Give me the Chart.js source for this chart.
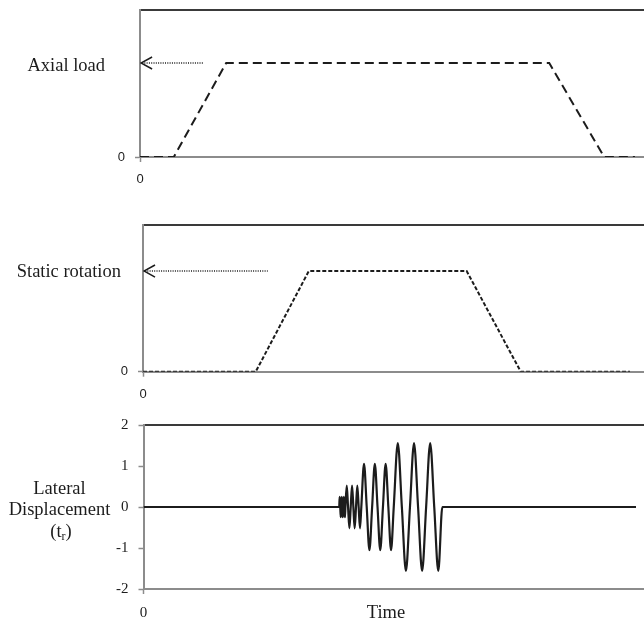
<!DOCTYPE html>
<html><head><meta charset="utf-8">
<script src="https://cdn.jsdelivr.net/npm/chart.js@4.4.1/dist/chart.umd.min.js"></script>
<style>
html,body{margin:0;padding:0;background:#fff;overflow:hidden}
#wrap{position:relative;width:644px;height:619px}
canvas{position:absolute;left:0}
</style></head><body>
<div id="wrap">
<canvas id="c1" width="644" height="200" style="top:0"></canvas>
<canvas id="c2" width="644" height="200" style="top:200px"></canvas>
<canvas id="c3" width="644" height="219" style="top:400px"></canvas>
</div>
<script>
// ---------- data ----------
const axialTime = [0, 6.7, 17.1, 81.2, 92.1, 98.2];
const axialLoad = [0, 0, 1, 1, 0, 0];
const axialArrowTime = [0.4, 12.5];
const axialArrowLevel = [1, 1];
const axialHeadTime = [2.4, 0.2, 2.4];
const axialHeadLevel = [1.064, 1, 0.936];

const rotTime = [0, 22.5, 33.1, 64.6, 75.4, 97.2];
const rotValue = [0, 0, 1, 1, 0, 0];
const rotArrowTime = [0.4, 24.9];
const rotArrowLevel = [1, 1];
const rotHeadTime = [2.4, 0.2, 2.4];
const rotHeadLevel = [1.06, 1, 0.94];

const latTime = [0, 39.10,
  39.20, 39.31, 39.41, 39.51, 39.62, 39.72, 39.82, 39.92, 40.03, 40.13, 40.24, 40.34,
  40.61, 40.87, 41.14, 41.40, 41.67, 41.93, 42.19, 42.46, 42.72, 42.99, 43.25, 43.52,
  44.06, 44.60, 45.14, 45.68, 46.22, 46.76, 47.30, 47.84, 48.38, 48.92, 49.46, 50.00,
  50.81, 51.62, 52.43, 53.24, 54.05, 54.86, 55.67, 56.47, 57.28, 58.09, 58.90, 59.71,
  98.4];
const latDisp = [0, 0,
  0.25, 0, -0.25, 0, 0.25, 0, -0.25, 0, 0.25, 0, -0.25, 0,
  0.52, 0, -0.52, 0, 0.52, 0, -0.52, 0, 0.52, 0, -0.52, 0,
  1.05, 0, -1.05, 0, 1.05, 0, -1.05, 0, 1.05, 0, -1.05, 0,
  1.56, 0, -1.56, 0, 1.56, 0, -1.56, 0, 1.56, 0, -1.56, 0,
  0];

const yTicks12 = [0];
const yLabels12 = ['0'];
const xTicks12 = [0];
const xLabels12 = ['0'];
const yTicks3 = [-2, -1, 0, 1, 2];
const yLabels3 = ['-2', '-1', '0', '1', '2'];
const xTicks3 = [0, 48.45];
const xLabels3 = ['0', 'Time'];

const axialTitle = 'Axial load';
const rotTitle = 'Static rotation';
const latTitle = ['Lateral', 'Displacement'];
const latUnitMain = '(t', latUnitSub = 'r', latUnitEnd = ')';

// ---------- styling / drawing ----------
const GRAY = '#8c8c8c', DARK = '#3a3a3a', INK = '#1c1c1c';
const SANS = '"Liberation Sans", Arial, sans-serif';
const SERIF = '"Liberation Serif", "Times New Roman", serif';

function pts(xs, ys) { return xs.map((x, i) => ({x: x, y: ys[i]})); }

const sideLabels = {
  id: 'sideLabels',
  afterDraw(chart, args, opts) {
    const ctx = chart.ctx, ys = chart.scales.y;
    ctx.save();
    ctx.fillStyle = INK;
    ctx.textBaseline = 'alphabetic';
    (opts.items || []).forEach(it => {
      const y = (it.value !== undefined) ? ys.getPixelForValue(it.value) + it.dy : it.y;
      if (it.parts) {
        let total = 0;
        it.parts.forEach(p => { ctx.font = p.size + 'px ' + SERIF; p.w = ctx.measureText(p.t).width; total += p.w; });
        let x = it.x - total / 2;
        ctx.textAlign = 'left';
        it.parts.forEach(p => { ctx.font = p.size + 'px ' + SERIF; ctx.fillText(p.t, x, y + (p.dy || 0)); x += p.w; });
      } else {
        ctx.textAlign = it.align;
        ctx.font = it.size + 'px ' + SERIF;
        ctx.fillText(it.text, it.x, y);
      }
    });
    ctx.restore();
  }
};

function build(id, o) {
  return new Chart(document.getElementById(id), {
    type: 'line',
    data: {datasets: o.datasets},
    plugins: [sideLabels],
    options: {
      responsive: false, animation: false, devicePixelRatio: 1, events: [],
      layout: {padding: {top: o.top, left: 0, right: 0, bottom: 0}},
      elements: {point: {radius: 0}},
      plugins: {legend: {display: false}, tooltip: {enabled: false}, sideLabels: {items: o.labels}},
      scales: {
        x: {
          type: 'linear', position: 'bottom', min: 0, max: 100,
          afterBuildTicks: s => { s.ticks = o.xTicks.map(v => ({value: v})); },
          afterFit: s => { s.height = o.xHeight; s.paddingLeft = 0; s.paddingRight = 0; },
          ticks: {autoSkip: false, maxRotation: 0, minRotation: 0, padding: o.xPad, color: INK,
            callback: (v, i) => o.xLabels[i], font: o.xFont},
          grid: {drawOnChartArea: false, drawTicks: true, tickLength: 5, tickWidth: 1.5,
            tickColor: c => (c.tick && c.tick.value === 0) ? GRAY : 'rgba(0,0,0,0)'},
          border: {display: true, color: GRAY, width: 2}
        },
        x2: {
          type: 'linear', position: 'top', min: 0, max: 100,
          afterFit: s => { s.height = 0; s.paddingLeft = 0; s.paddingRight = 0; },
          ticks: {display: false},
          grid: {display: false, drawTicks: false},
          border: {display: true, color: DARK, width: 2}
        },
        y: {
          type: 'linear', position: 'left', min: o.yMin, max: o.yMax,
          afterBuildTicks: s => { s.ticks = o.yTicks.map(v => ({value: v})); },
          afterFit: s => { s.width = o.left; s.paddingTop = 0; s.paddingBottom = 0; },
          ticks: {autoSkip: false, padding: o.yPad, color: INK, font: o.yFont,
            callback: (v, i) => o.yLabels[i]},
          grid: {drawOnChartArea: false, drawTicks: true, tickLength: 5, tickWidth: 1.5, tickColor: GRAY},
          border: {display: true, color: GRAY, width: 2}
        }
      }
    }
  });
}

const sansTick = {family: SANS, size: 13, lineHeight: '15px'};

// Panel 1: axial load
build('c1', {
  top: 10, left: 140, xHeight: 43, yMin: 0, yMax: 1.564,
  xTicks: xTicks12, xLabels: xLabels12, yTicks: yTicks12, yLabels: yLabels12,
  xFont: sansTick, yFont: sansTick, xPad: 10, yPad: 10,
  datasets: [
    {data: pts(axialTime, axialLoad), borderColor: INK, borderWidth: 2, borderDash: [9, 5], tension: 0, fill: false},
    {data: pts(axialArrowTime, axialArrowLevel), borderColor: INK, borderWidth: 1.3, borderDash: [1, 1.3], fill: false},
    {data: pts(axialHeadTime, axialHeadLevel), borderColor: INK, borderWidth: 1.5, fill: false}
  ],
  labels: [{text: axialTitle, value: 1, dy: 7.5, x: 105, align: 'right', size: 18.5}]
});

// Panel 2: static rotation
build('c2', {
  top: 25, left: 143, xHeight: 28.3, yMin: 0, yMax: 1.457,
  xTicks: xTicks12, xLabels: xLabels12, yTicks: yTicks12, yLabels: yLabels12,
  xFont: sansTick, yFont: sansTick, xPad: 10, yPad: 10,
  datasets: [
    {data: pts(rotTime, rotValue), borderColor: INK, borderWidth: 2, borderDash: [4, 2], tension: 0, fill: false},
    {data: pts(rotArrowTime, rotArrowLevel), borderColor: INK, borderWidth: 1.3, borderDash: [1, 1.3], fill: false},
    {data: pts(rotHeadTime, rotHeadLevel), borderColor: INK, borderWidth: 1.5, fill: false}
  ],
  labels: [{text: rotTitle, value: 1, dy: 5.5, x: 121, align: 'right', size: 18.5}]
});

// Panel 3: lateral displacement
build('c3', {
  top: 25, left: 143.5, xHeight: 30, yMin: -2, yMax: 2,
  xTicks: xTicks3, xLabels: xLabels3, yTicks: yTicks3, yLabels: yLabels3,
  xFont: c => (c.index === 1) ? {family: SERIF, size: 18.5, lineHeight: '18px'} : {family: SERIF, size: 15, lineHeight: '18px'},
  yFont: {family: SERIF, size: 15}, xPad: 10.5, yPad: 10,
  datasets: [
    {data: pts(latTime, latDisp), borderColor: INK, borderWidth: 2.2, cubicInterpolationMode: 'monotone', fill: false}
  ],
  labels: [
    {text: latTitle[0], y: 94, x: 59.5, align: 'center', size: 18.5},
    {text: latTitle[1], y: 115, x: 59.5, align: 'center', size: 18.5},
    {parts: [{t: latUnitMain, size: 18.5}, {t: latUnitSub, size: 12, dy: 3}, {t: latUnitEnd, size: 18.5}], y: 137, x: 61}
  ]
});
</script>
</body></html>
